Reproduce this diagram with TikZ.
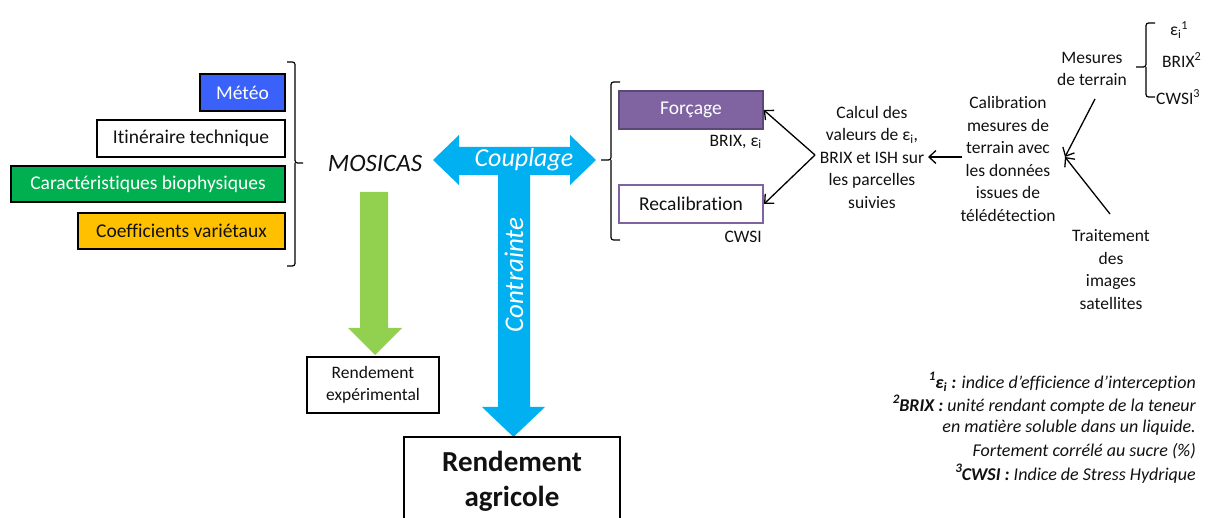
\documentclass[tikz,border=0pt]{standalone}
\usepackage{fontspec}
\setmainfont{Carlito}[Ligatures=NoCommon]
\usetikzlibrary{arrows.meta}
\definecolor{meteoblue}{HTML}{3A62FA}
\definecolor{biogreen}{HTML}{00B050}
\definecolor{varorange}{HTML}{FFC000}
\definecolor{cyanarrow}{HTML}{00B0F0}
\definecolor{limearrow}{HTML}{92D050}
\definecolor{purplefill}{HTML}{8064A2}
\definecolor{purpledark}{HTML}{5C4776}
\definecolor{txt}{HTML}{111111}
\tikzset{
  inbox/.style={draw=black, line width=1.4pt, inner sep=0pt, font=\fontsize{19.5}{23}\selectfont, text=txt},
  lbl/.style={inner sep=0pt, align=center, font=\fontsize{17.5}{22.5}\selectfont, text=txt},
  brk/.style={line width=1.2pt, rounded corners=2.5pt},
  conn/.style={line width=1.3pt, -{Straight Barb[length=7pt,width=13pt,line width=1.3pt]}},
  foot/.style={inner sep=0pt, anchor=east, font=\fontsize{18}{22}\selectfont\itshape, text=txt}
}
\newcommand{\fsup}[1]{\raisebox{0.45em}{\fontsize{13}{13}\selectfont #1}}
\begin{document}
\begin{tikzpicture}[x=1pt,y=-1pt]
\useasboundingbox (0,0) rectangle (1208,518);
% left input boxes
\node[inbox, fill=meteoblue, text=white, minimum width=85, minimum height=37] (meteo) at (242.5,92.5) {Météo};
\node[inbox, fill=white, minimum width=188, minimum height=37] (itin) at (191,138.5) {Itinéraire technique};
\node[inbox, fill=biogreen, text=white, minimum width=274, minimum height=36] (bio) at (148,184) {Caractéristiques biophysiques};
\node[inbox, fill=varorange, minimum width=207, minimum height=36] (coef) at (181.5,231) {Coefficients variétaux};
% left brace
\draw[brk] (287,62) -- (295,62) -- (295,163) -- (303,163);
\draw[brk] (295,163) -- (295,266) -- (287,266);
\node[inner sep=0pt, font=\fontsize{25}{28}\selectfont\itshape, text=txt] (mosicas) at (375,163) {MOSICAS};
% blue T arrow
\fill[cyanarrow] (433,160) -- (459,135) -- (459,147) -- (570,147) -- (570,135) -- (596,160) -- (570,185) -- (570,175) -- (530,175) -- (530,407) -- (545,407) -- (513.5,437) -- (482,407) -- (498,407) -- (498,175) -- (459,175) -- (459,185) -- cycle;
\node[inner sep=0pt, font=\fontsize{26}{30}\selectfont\itshape, text=white] (coupl) at (524,160) {Couplage};
\node[inner sep=0pt, rotate=90, font=\fontsize{27}{30}\selectfont\itshape, text=white] (contr) at (514,275) {Contrainte};
% green arrow
\fill[limearrow] (360,192) -- (388,192) -- (388,328) -- (402,328) -- (375,355) -- (348,328) -- (360,328) -- cycle;
% result boxes
\node[draw=black, line width=1.4pt, fill=white, minimum width=132, minimum height=56, inner sep=0pt, align=center, font=\fontsize{17.5}{22}\selectfont, text=txt] (rexp) at (373,385) {Rendement\\expérimental};
\draw[line width=1.4pt] (404,530) -- (404,437) -- (620,437) -- (620,530);
\node[inner sep=0pt, align=center, font=\fontsize{29}{35}\selectfont\bfseries, text=txt] (ragri) at (512,481) {Rendement\\agricole};
% right brace
\draw[brk] (620,82) -- (611,82) -- (611,160) -- (601,160);
\draw[brk] (611,160) -- (611,240) -- (620,240);
% forcage / recalibration
\node[draw=purpledark, line width=1.5pt, fill=purplefill, text=white, minimum width=144, minimum height=38, inner sep=0pt, font=\fontsize{19.5}{23}\selectfont] (forc) at (691,110) {Forçage};
\node[lbl, anchor=east] (brixe) at (762,142) {BRIX, ε\textsubscript{i}};
\node[draw=purplefill, line width=2pt, fill=white, minimum width=144, minimum height=38, inner sep=0pt, font=\fontsize{19.5}{23}\selectfont, text=txt] (recal) at (691,204) {Recalibration};
\node[lbl, anchor=east] (cwsi) at (762,237) {CWSI};
% calcul text
\node[lbl] (calc) at (872,157) {Calcul des\\valeurs de ε\textsubscript{i},\\BRIX et ISH sur\\les parcelles\\suivies};
\coordinate (cv) at (815,155);
\draw[conn] (cv) -- (recal.east);
\draw[conn] (cv) -- (forc.east);
% calibration text
\node[lbl] (calib) at (1008,159) {Calibration\\mesures de\\terrain avec\\les données\\issues de\\télédétection};
\coordinate (cl) at (962,157);
\coordinate (cl2) at (928,157);
\draw[conn] (cl) -- (cl2);
% mesures de terrain
\node[lbl] (mes) at (1092,69) {Mesures\\de terrain};
\draw[brk] (1155,23) -- (1146,23) -- (1146,67) -- (1136,67);
\draw[brk] (1146,67) -- (1146,97) -- (1155,97);
\node[lbl, anchor=west] (e1) at (1170,30) {ε\textsubscript{i}\textsuperscript{1}};
\node[lbl, anchor=west] (b2) at (1162,60) {BRIX\textsuperscript{2}};
\node[lbl, anchor=west] (c3) at (1156,97) {CWSI\textsuperscript{3}};
% traitement
\node[lbl] (trait) at (1111,269.5) {Traitement\\des\\images\\satellites};
\coordinate (ct) at (1065,157);
\coordinate (cm) at (1095,99);
\coordinate (cs) at (1110,214);
\draw[conn] (cm) -- (ct);
\draw[conn] (cs) -- (ct);
% footnotes
\node[foot] (f1) at (1196,382) {\textbf{\fsup{1}ε\textsubscript{i} :} indice d’efficience d’interception};
\node[foot] (f2) at (1196,405) {\textbf{\fsup{2}BRIX :} unité rendant compte de la teneur};
\node[foot] (f3) at (1196,428) {en matière soluble dans un liquide.};
\node[foot] (f4) at (1196,451) {Fortement corrélé au sucre (\%)};
\node[foot] (f5) at (1196,474) {\textbf{\fsup{3}CWSI :} Indice de Stress Hydrique};
\end{tikzpicture}
\end{document}
